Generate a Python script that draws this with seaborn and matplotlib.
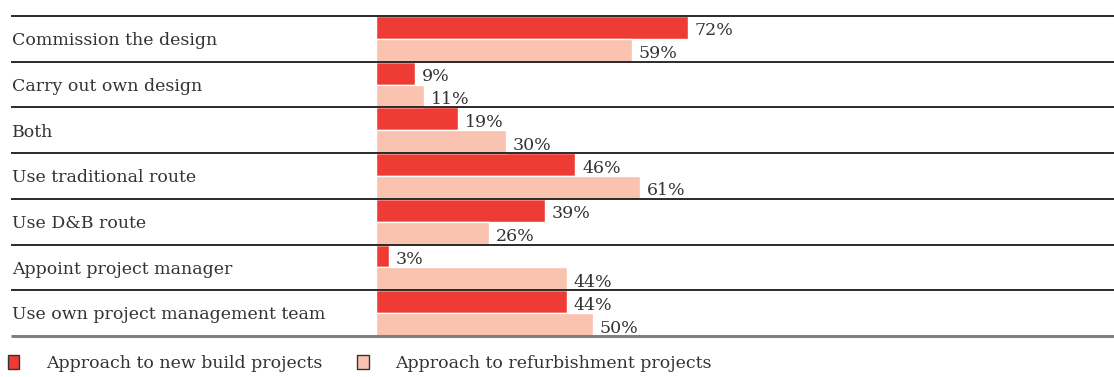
import matplotlib
matplotlib.use("Agg")
import matplotlib.pyplot as plt
import matplotlib.transforms as mtransforms
import pandas as pd
import seaborn as sns

categories = [
    "Commission the design",
    "Carry out own design",
    "Both",
    "Use traditional route",
    "Use D&B route",
    "Appoint project manager",
    "Use own project management team",
]
new_build = [72, 9, 19, 46, 39, 3, 44]
refurbishment = [59, 11, 30, 61, 26, 44, 50]
series_names = ["Approach to new build projects", "Approach to refurbishment projects"]

RED = "#EE3B33"
PEACH = "#FAC3AF"
TEXT = "#333333"

df = pd.DataFrame({
    "category": categories * 2,
    "value": new_build + refurbishment,
    "series": [series_names[0]] * len(categories) + [series_names[1]] * len(categories),
})

sns.set_theme(style="white")
plt.rcParams["font.family"] = ["DejaVu Serif"]

W, H = 1114, 377
fig = plt.figure(figsize=(W / 100, H / 100), dpi=100)
x0, y_top, y_bot = 376, 16, 336
ax = fig.add_axes([x0 / W, (H - y_bot) / H, (W - x0) / W, (y_bot - y_top) / H])

sns.barplot(
    data=df, x="value", y="category", hue="series", orient="h",
    palette=[RED, PEACH], width=1.0, gap=0, dodge=True, saturation=1,
    order=categories, hue_order=series_names, legend=True, ax=ax,
)

px_per_unit = (688 - x0) / 72
ax.set_xlim(0, (W - x0) / px_per_unit)
ax.set_ylim(len(categories) - 0.5, -0.5)
ax.set_xlabel("")
ax.set_ylabel("")
ax.set_xticks([])
ax.set_yticks([])
for s in ax.spines.values():
    s.set_visible(False)

# value labels at the end of each bar, sitting slightly low
for cont in ax.containers:
    labels = ax.bar_label(cont, labels=[f"{v:.0f}%" for v in cont.datavalues],
                          padding=5, fontsize=12.5, color=TEXT)
    for t in labels:
        t.xyann = (5, -2.5)

# category names and row rules extending into the left margin
blend = mtransforms.blended_transform_factory(fig.transFigure, ax.transData)
left = 11 / W
for i, name in enumerate(categories):
    ax.text(12 / W, i + 0.04, name, transform=blend, ha="left", va="center",
            fontsize=12.5, color=TEXT, clip_on=False)
for i in range(len(categories)):
    ax.plot([left, 1], [i - 0.5, i - 0.5], transform=blend, color="#1a1a1a",
            lw=1.3, clip_on=False, solid_capstyle="butt")
ax.plot([left, 1], [len(categories) - 0.5] * 2, transform=blend, color="#808080",
        lw=2.2, clip_on=False, solid_capstyle="butt")

# legend along the bottom edge
handles, labels = ax.get_legend_handles_labels()
ax.get_legend().remove()
leg = fig.legend(handles, labels, loc="upper left", bbox_to_anchor=(8 / W, 1 - 355 / H),
                 ncol=2, frameon=False, fontsize=12.5, handlelength=0.65, handleheight=0.85,
                 handletextpad=1.55, columnspacing=2.0, labelcolor=TEXT,
                 borderpad=0, borderaxespad=0)
for h in leg.legend_handles:
    h.set_edgecolor("#333333")
    h.set_linewidth(1.0)

fig.savefig("out.png", dpi=100)
